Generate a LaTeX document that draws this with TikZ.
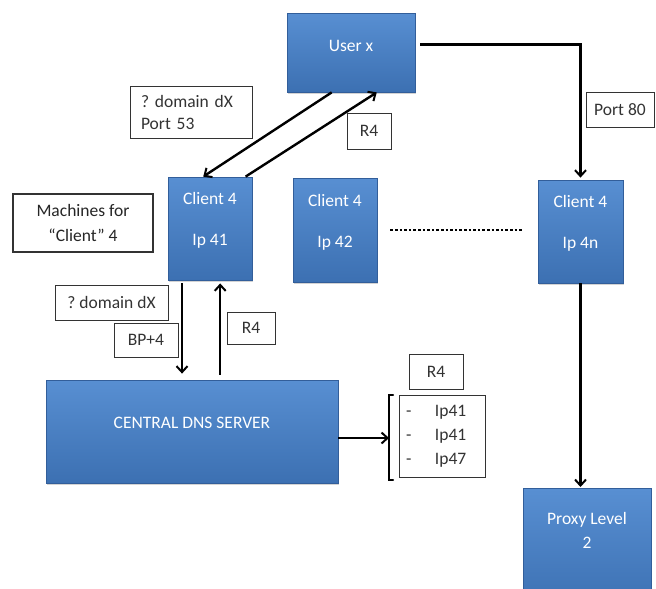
\documentclass[tikz,border=0pt]{standalone}
\usepackage{fontspec}
\setmainfont{Carlito}
\usetikzlibrary{arrows.meta,calc,shadows}
\frenchspacing

\definecolor{boxtop}{RGB}{88,143,210}
\definecolor{boxbot}{RGB}{60,112,178}
\definecolor{boxedge}{RGB}{50,94,154}

\tikzset{
  bluebox/.style={rectangle, draw=boxedge, line width=0.8pt,
    top color=boxtop, bottom color=boxbot, inner sep=0pt,
    drop shadow={opacity=0.35, shadow xshift=1.2pt, shadow yshift=-2pt}},
  boxtext/.style={text=white, align=center, font=\fontsize{17.5}{20}\selectfont},
  tag/.style={rectangle, draw=black!80, line width=0.8pt, fill=white,
    inner sep=0pt, text=black!80, font=\fontsize{17.5}{22}\selectfont},
  flow/.style={line width=2.4pt, -{Straight Barb[length=6pt,width=11pt,line width=2pt]}},
  plain/.style={line width=2.4pt}
}

\begin{document}
\begin{tikzpicture}[x=1pt,y=-1pt]
\useasboundingbox (0,0) rectangle (656,589);

% machines
\node[bluebox, minimum width=128pt, minimum height=79pt,
  label={[boxtext, yshift=7pt]center:User x}] (user) at (351,52.5) {};
\node[bluebox, minimum width=84pt, minimum height=103pt,
  label={[boxtext, yshift=8pt]center:{Client 4\\[21pt]Ip 41}}] (c41) at (210,228.5) {};
\node[bluebox, minimum width=84pt, minimum height=104pt,
  label={[boxtext, yshift=8pt]center:{Client 4\\[21pt]Ip 42}}] (c42) at (335,230) {};
\node[bluebox, minimum width=85pt, minimum height=103pt,
  label={[boxtext, yshift=8pt]center:{Client 4\\[21pt]Ip 4n}}] (c4n) at (580.5,231.5) {};
\node[bluebox, minimum width=292pt, minimum height=103pt,
  label={[boxtext, yshift=9pt]center:CENTRAL DNS SERVER}] (dns) at (192,431.5) {};
\node[bluebox, minimum width=128pt, minimum height=120pt, anchor=north,
  label={[boxtext, yshift=18pt]center:{Proxy Level\\[4pt]2}}] (proxy) at (587,488) {};

% annotations
\node[tag, minimum width=122pt, minimum height=52pt, text width=100pt, align=left]
  (qport) at (191,112) {? domain dX\\Port 53};
\node[tag, minimum width=44pt, minimum height=36pt] (r4top) at (369,131) {R4};
\node[tag, minimum width=140pt, minimum height=58pt, line width=2pt, text=black!85,
  align=center, font=\fontsize{17.5}{25}\selectfont] (mach) at (83,223) {Machines for\\“Client” 4};
\node[tag, minimum width=113pt, minimum height=35pt] (qdom) at (111.5,302.5) {? domain dX};
\node[tag, minimum width=64pt, minimum height=34pt] (bp) at (146,340) {BP+4};
\node[tag, minimum width=48pt, minimum height=32pt] (r4c) at (251,328) {R4};
\node[tag, minimum width=54pt, minimum height=35pt] (r4l) at (436,371.5) {R4};
\node[tag, minimum width=86pt, minimum height=82pt, text width=72pt, align=left,
  font=\fontsize{17.5}{24}\selectfont] (iplist) at (442,436)
  {\makebox[29pt][l]{-}Ip41\\\makebox[29pt][l]{-}Ip41\\\makebox[29pt][l]{-}Ip47};
\node[tag, minimum width=68pt, minimum height=35pt] (port80) at (620,109.5) {Port 80};

% bracket in front of the answer list
\coordinate (brtop) at (389,395);
\coordinate (brbot) at (389,480);
\draw[plain, line cap=round] ($(brtop)+(4,0)$) -- (brtop) -- (brbot) -- ($(brbot)+(4,0)$);

% user <-> client 4
\draw[flow] ($(user.south west)!0.35!(user.south east)$) -- ($(c41.north west)!0.42!(c41.north east)$);
\draw[flow] ($(c41.north west)!0.92!(c41.north east)$) -- ($(user.south west)!0.70!(user.south east)$);

% user -> client 4n on port 80
\coordinate (uout) at ($(user.north east)!0.4!(user.south east)+(5,0)$);
\draw[flow] (uout) -| ([yshift=2pt]c4n.north);

% client 4 <-> central DNS
\coordinate (downtop) at ($(c41.south west)!0.17!(c41.south east)+(0,3)$);
\coordinate (downfoot) at (downtop |- dns.north);
\draw[flow] (downtop) -- ($(downfoot)+(0,-6)$);
\coordinate (uptop) at ($(c41.south west)!0.62!(c41.south east)+(0,3)$);
\coordinate (upfoot) at (uptop |- dns.north);
\draw[flow] ($(upfoot)+(0,-5)$) -- (uptop);

% central DNS answer
\coordinate (ansfrom) at (338,438);
\draw[flow] (ansfrom) -- (brtop |- ansfrom);

% client 4n -> proxy
\coordinate (pin) at (c4n.south |- proxy.north);
\draw[flow] (c4n.south) -- ($(pin)+(0,-1)$);

% further clients
\draw[line width=2.6pt, dotted, shorten <=13pt, shorten >=16pt] (c42.east) -- (c4n.west |- c42.east);
\end{tikzpicture}
\end{document}
